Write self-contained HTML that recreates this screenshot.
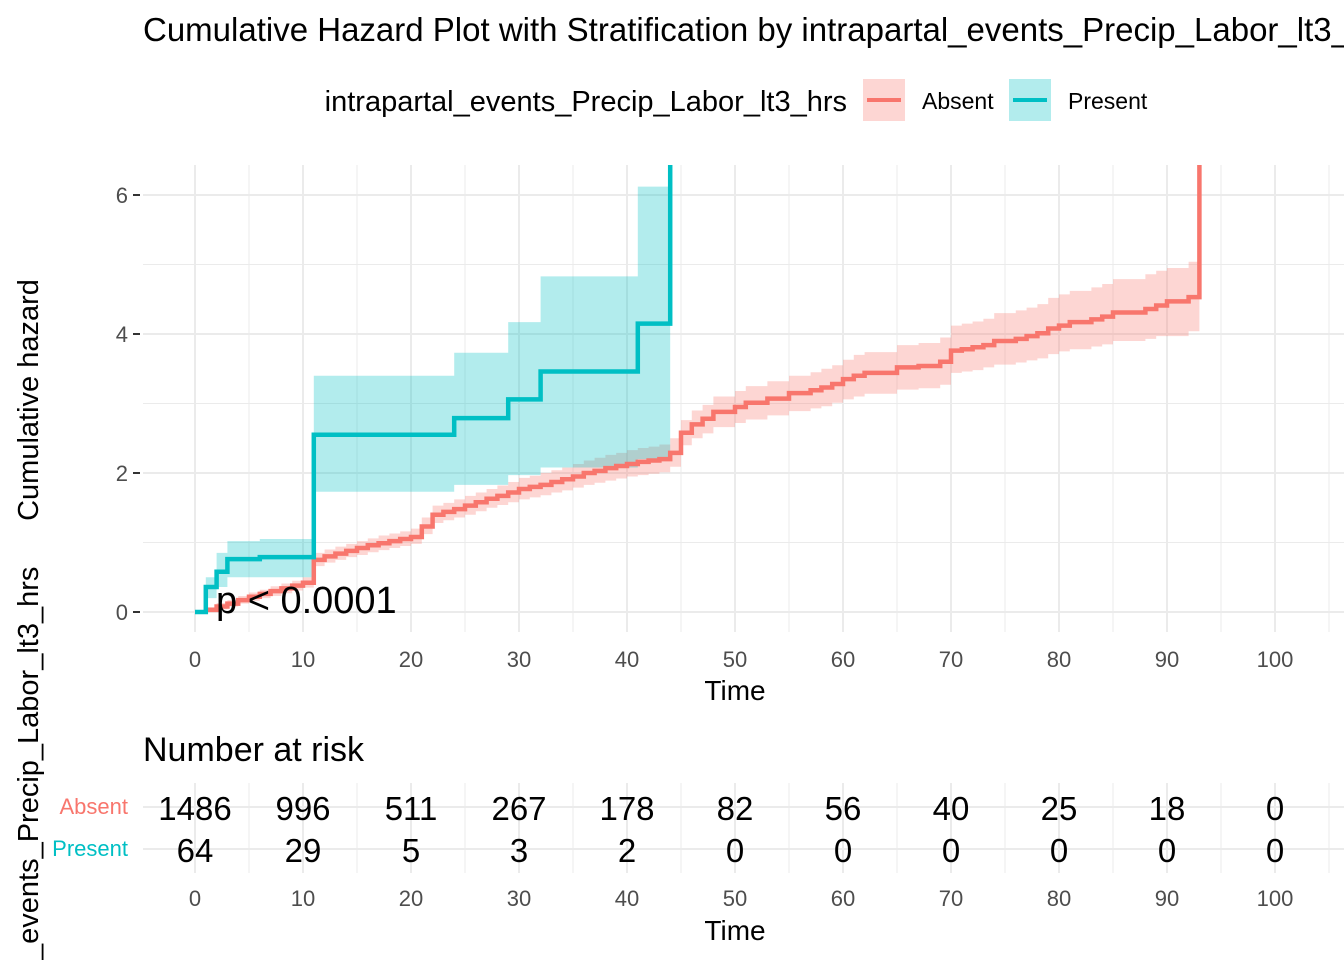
<!DOCTYPE html>
<html><head><meta charset="utf-8"><style>
html,body{margin:0;padding:0;background:#fff;overflow:hidden}
svg{display:block;font-family:"Liberation Sans",Arial,sans-serif}
</style></head><body>
<svg id="c" width="1344" height="960" viewBox="0 0 1344 960">
<text x="143" y="41" font-size="33" fill="#000">Cumulative Hazard Plot with Stratification by intrapartal_events_Precip_Labor_lt3_hrs</text>
<g>
<text x="847" y="111" font-size="29" text-anchor="end" fill="#000">intrapartal_events_Precip_Labor_lt3_hrs</text>
<g>
<rect x="863" y="79" width="42" height="42" fill="rgba(248,118,109,0.3)"/>
<line x1="867" y1="100" x2="901" y2="100" stroke="#F8766D" stroke-width="4"/>
<text x="922" y="109" font-size="23" fill="#000">Absent</text></g>
<g>
<rect x="1009" y="79" width="42" height="42" fill="rgba(0,191,196,0.3)"/>
<line x1="1013" y1="100" x2="1047" y2="100" stroke="#00BFC4" stroke-width="4"/>
<text x="1068" y="109" font-size="23" fill="#000">Present</text></g>
</g>
<text transform="translate(38,400) rotate(-90)" font-size="29" text-anchor="middle" fill="#000">Cumulative hazard</text>
<text transform="translate(38,960) rotate(-90)" font-size="29" text-anchor="start" fill="#000">_events_Precip_Labor_lt3_hrs</text>
<g id="grid"></g>
<g id="bands"></g>
<g id="lines"></g>
<text x="216" y="613" font-size="38" fill="#000">p &lt; 0.0001</text>
<g id="axes"></g>
<text x="735" y="700" font-size="28" text-anchor="middle" fill="#000">Time</text>
<text x="143" y="761" font-size="34" fill="#000">Number at risk</text>
<g id="tgrid"></g>
<text x="128" y="814" font-size="22" text-anchor="end" fill="#F8766D">Absent</text>
<text x="128" y="856" font-size="22" text-anchor="end" fill="#00BFC4">Present</text>
<g id="table"></g>
<text x="735" y="940" font-size="28" text-anchor="middle" fill="#000">Time</text>
</svg>
<script>
const xTicks=[0,10,20,30,40,50,60,70,80,90,100];
const yTicks=[0,2,4,6];
const presTime=[0,1,2,3,6,11,24,29,32,41,44];
const presHaz=[0,0.36,0.58,0.76,0.79,2.55,2.79,3.06,3.46,4.15,99];
const presLow=[0,0.2,0.36,0.5,0.5,1.73,1.83,1.97,2.08,2.2,99];
const presUp=[0,0.5,0.85,1.02,1.05,3.4,3.73,4.17,4.83,6.12,99];
const absTime=[1,2,3,4,5,6,7,8,9,10,11,12,13,14,15,16,17,18,19,20,21,22,23,24,25,26,27,28,29,30,31,32,33,34,35,36,37,38,39,40,41,42,43,44,45,46,47,48,50,51,53,55,57,58,59,60,61,62,65,67,69,70,71,72,73,74,76,77,78,79,80,81,83,84,85,88,89,90,92,93];
const absHaz=[0.03,0.08,0.12,0.17,0.22,0.26,0.30,0.34,0.38,0.42,0.75,0.80,0.84,0.88,0.92,0.96,0.99,1.02,1.05,1.08,1.23,1.40,1.44,1.48,1.53,1.58,1.63,1.67,1.72,1.77,1.80,1.83,1.87,1.91,1.95,2.00,2.03,2.07,2.10,2.13,2.16,2.18,2.20,2.29,2.58,2.70,2.78,2.88,2.95,3.01,3.07,3.15,3.19,3.23,3.28,3.35,3.40,3.44,3.52,3.54,3.60,3.76,3.78,3.81,3.84,3.90,3.93,3.97,4.01,4.08,4.12,4.17,4.21,4.25,4.31,4.36,4.41,4.47,4.53,99];
const absLow=[0.0,0.04,0.08,0.12,0.16,0.2,0.23,0.27,0.31,0.35,0.66,0.71,0.75,0.79,0.82,0.86,0.89,0.92,0.95,0.98,1.12,1.28,1.32,1.36,1.40,1.45,1.5,1.54,1.58,1.62,1.65,1.68,1.72,1.75,1.79,1.83,1.86,1.89,1.92,1.95,1.97,1.99,2.01,2.09,2.40,2.50,2.57,2.66,2.72,2.77,2.83,2.89,2.93,2.96,3.01,3.06,3.10,3.14,3.2,3.22,3.27,3.44,3.46,3.48,3.52,3.56,3.59,3.62,3.65,3.71,3.75,3.78,3.82,3.85,3.90,3.93,3.97,3.97,4.04,99];
const absUp=[0.07,0.13,0.17,0.23,0.28,0.32,0.37,0.41,0.45,0.5,0.85,0.9,0.94,0.98,1.02,1.06,1.1,1.13,1.16,1.2,1.36,1.53,1.57,1.62,1.67,1.72,1.77,1.82,1.87,1.93,1.96,2.0,2.04,2.08,2.13,2.18,2.22,2.26,2.29,2.33,2.36,2.38,2.41,2.5,2.76,2.9,2.98,3.1,3.18,3.25,3.32,3.4,3.45,3.5,3.55,3.63,3.7,3.74,3.84,3.87,3.95,4.12,4.15,4.18,4.22,4.3,4.34,4.38,4.43,4.52,4.57,4.62,4.67,4.72,4.79,4.86,4.91,4.95,5.04,99];
const riskAbsent=[1486,996,511,267,178,82,56,40,25,18,0];
const riskPresent=[64,29,5,3,2,0,0,0,0,0,0];

const NS='http://www.w3.org/2000/svg';
const X0=143,X1=1344,Y0=165,Y1=632;
const sx=t=>195+10.8*t;
const sy=h=>Math.max(Y0,612-69.5*h);
function mk(tag,attrs,parent){const e=document.createElementNS(NS,tag);for(const k in attrs)e.setAttribute(k,attrs[k]);parent.appendChild(e);return e;}
const grid=document.getElementById('grid'),tgrid=document.getElementById('tgrid');
for(let t=-5;t<=110;t+=5){const x=sx(t);if(x<X0||x>X1)continue;const major=t%10===0;
 const l=mk('line',{x1:x,x2:x,y1:Y0,y2:Y1,stroke:'#ebebeb','stroke-width':major?2:1},grid);
 
 
 const l2=mk('line',{x1:x,x2:x,y1:783,y2:873,stroke:'#ebebeb','stroke-width':major?2:1},tgrid);
 
 }
for(let h=0;h<=6.5;h+=1){const y=612-69.5*h;if(y<Y0)continue;
 const l=mk('line',{x1:X0,x2:X1,y1:y,y2:y,stroke:'#ebebeb','stroke-width':h%2===0?2:1},grid);
 
 }
[807,849].forEach(y=>{const l=mk('line',{x1:X0,x2:X1,y1:y,y2:y,stroke:'#ebebeb','stroke-width':2},tgrid);
 
 });
const axes=document.getElementById('axes');
xTicks.forEach(t=>{
 const a=mk('text',{x:sx(t),y:667,'font-size':22,'text-anchor':'middle',fill:'#4d4d4d'},axes);a.textContent=t;
 
 
 const b=mk('text',{x:sx(t),y:906,'font-size':22,'text-anchor':'middle',fill:'#4d4d4d'},axes);b.textContent=t;
 
 });
yTicks.forEach(h=>{const y=sy(h);
 const a=mk('text',{x:128,y:y+8,'font-size':22,'text-anchor':'end',fill:'#4d4d4d'},axes);a.textContent=h;
 
 
 const tk=mk('line',{x1:133,x2:140,y1:y,y2:y,stroke:'#333','stroke-width':2},axes);
 
 });
function band(times,lo,up,fill,name){
 let top='',bot='';
 for(let i=0;i<times.length-1;i++){const a=sx(times[i]),b=sx(times[i+1]);
  top+=(i?'L':'M')+a+','+sy(up[i])+'L'+b+','+sy(up[i]);}
 for(let i=times.length-2;i>=0;i--){const a=sx(times[i]),b=sx(times[i+1]);
  bot+='L'+b+','+sy(lo[i])+'L'+a+','+sy(lo[i]);}
 const p=mk('path',{d:top+bot+'Z',fill:fill},document.getElementById('bands'));
 
 }
function step(times,haz,color,name){
 let d='M'+sx(times[0])+','+sy(haz[0]);
 for(let i=1;i<times.length;i++){d+='L'+sx(times[i])+','+sy(haz[i-1])+'L'+sx(times[i])+','+sy(haz[i]);}
 const p=mk('path',{d:d,fill:'none',stroke:color,'stroke-width':4.5},document.getElementById('lines'));
 
 }
band(absTime,absLow,absUp,'rgba(248,118,109,0.3)','absent-ci-band');
band(presTime,presLow,presUp,'rgba(0,191,196,0.3)','present-ci-band');
step(absTime,absHaz,'#F8766D','absent-hazard-line');
step(presTime,presHaz,'#00BFC4','present-hazard-line');
const tbl=document.getElementById('table');
xTicks.forEach((t,i)=>{
 const a=mk('text',{x:sx(t),y:820,'font-size':33,'text-anchor':'middle',fill:'#000'},tbl);a.textContent=riskAbsent[i];
 
 
 const b=mk('text',{x:sx(t),y:862,'font-size':33,'text-anchor':'middle',fill:'#000'},tbl);b.textContent=riskPresent[i];
 
 });
</script>
</body></html>
